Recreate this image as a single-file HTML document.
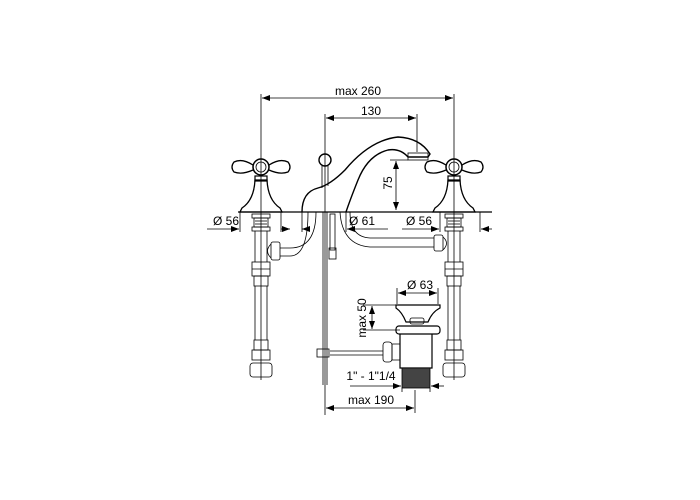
<!DOCTYPE html>
<html><head><style>body{margin:0;background:#fff}svg{display:block}text{font-family:"Liberation Sans",sans-serif;font-size:12px;fill:#000}</style></head><body>
<svg width="700" height="500" viewBox="0 0 700 500" xmlns="http://www.w3.org/2000/svg">
<defs><marker id="a" markerWidth="8" markerHeight="6" refX="8" refY="3" orient="auto-start-reverse" markerUnits="userSpaceOnUse"><path d="M0,0 L8,3 L0,6 z" fill="#000"/></marker></defs>
<g stroke="#000" stroke-width="0.8" fill="none">
<line x1="261" y1="94" x2="261" y2="380"/>
<line x1="454" y1="94" x2="454" y2="380"/>
<line x1="325" y1="114" x2="325" y2="415"/>
<line x1="417" y1="114" x2="417" y2="152"/>
<line x1="262" y1="98" x2="453" y2="98" marker-start="url(#a)" marker-end="url(#a)"/>
<line x1="326" y1="118" x2="416" y2="118" marker-start="url(#a)" marker-end="url(#a)"/>
<line x1="396" y1="161" x2="396" y2="210" marker-start="url(#a)" marker-end="url(#a)"/>
<line x1="390" y1="160" x2="408" y2="160"/>
<line x1="207" y1="229" x2="239" y2="229" marker-end="url(#a)"/>
<line x1="281" y1="229" x2="290" y2="229" marker-end="url(#a)"/>
<line x1="310" y1="229" x2="302" y2="229" marker-end="url(#a)"/>
<line x1="388" y1="229" x2="347" y2="229" marker-end="url(#a)"/>
<line x1="402" y1="229" x2="439" y2="229" marker-end="url(#a)"/>
<line x1="492" y1="229" x2="481" y2="229" marker-end="url(#a)"/>
<line x1="240" y1="212" x2="240" y2="232"/><line x1="281" y1="212" x2="281" y2="232"/>
<line x1="302" y1="212" x2="302" y2="232"/><line x1="346" y1="212" x2="346" y2="232"/>
<line x1="440" y1="212" x2="440" y2="232"/><line x1="480" y1="212" x2="480" y2="232"/>
<line x1="238" y1="212" x2="492" y2="212" stroke-width="1.2"/>
<g id="h">
<path d="M255,180 Q254,200 242,208 L240,212 L282,212 L280,208 Q268,200 267,180 Z" stroke-width="1.3"/>
<rect x="255" y="176" width="12" height="5" stroke-width="1.2"/>
<circle cx="261" cy="167" r="8" stroke-width="1.5"/><circle cx="261" cy="167" r="5"/>
<path d="M253,165 Q242,158 234,162 Q230,167 234,172 Q242,175 253,170" stroke-width="1.3"/>
<path d="M269,165 Q280,158 288,162 Q292,167 288,172 Q280,175 269,170" stroke-width="1.3"/>
<rect x="252" y="214" width="18" height="4"/><rect x="254" y="218" width="14" height="9"/><rect x="252" y="227" width="18" height="4"/>
<line x1="255" y1="221" x2="267" y2="221"/><line x1="255" y1="224" x2="267" y2="224"/>
<line x1="255" y1="231" x2="255" y2="262"/><line x1="267" y1="231" x2="267" y2="262"/>
<rect x="252" y="262" width="18" height="14"/><line x1="252" y1="269" x2="270" y2="269"/>
<rect x="254" y="276" width="14" height="10"/>
<line x1="255" y1="286" x2="255" y2="340"/><line x1="267" y1="286" x2="267" y2="340"/>
<rect x="254" y="340" width="14" height="10"/>
<rect x="252" y="350" width="18" height="10"/>
<rect x="250" y="363" width="22" height="14" rx="3"/>
</g>
<use href="#h" transform="translate(193,0)"/>
<path d="M302,212 Q302,192 318,188 Q330,185 345,170 Q370,140 398,137 Q420,138 430,154 L428,157 L408,157 Q400,148 388,150 Q368,155 358,180 Q350,200 346,212" stroke-width="1.4"/>
<rect x="408" y="153" width="20" height="7"/>
<circle cx="325" cy="160" r="6" stroke-width="1.4"/>
<line x1="322" y1="166" x2="322" y2="188"/><line x1="328" y1="166" x2="328" y2="186"/>
<path d="M316,212 Q316,248 290,248 L280,248"/>
<path d="M308,212 Q308,256 290,256 L280,256"/>
<rect x="271" y="242" width="9" height="18" rx="2"/>
<path d="M271,244 Q264,251 271,258"/>
<path d="M340,212 Q342,245 370,247 L434,247"/>
<path d="M350,212 Q350,237 370,238 L434,238"/>
<rect x="434" y="235" width="9" height="16" rx="2"/>
<path d="M443,237 Q450,243 443,250"/>
<rect x="330" y="214" width="5" height="36"/>
<rect x="329" y="248" width="7" height="11"/>
<line x1="323" y1="212" x2="323" y2="385"/><line x1="327" y1="212" x2="327" y2="385"/>
<line x1="397" y1="288" x2="397" y2="304"/><line x1="438" y1="288" x2="438" y2="304"/>
<line x1="398" y1="293" x2="437" y2="293" marker-start="url(#a)" marker-end="url(#a)"/>
<line x1="363" y1="305" x2="400" y2="305"/><line x1="363" y1="330" x2="400" y2="330"/>
<line x1="372" y1="306" x2="372" y2="329" marker-start="url(#a)" marker-end="url(#a)"/>
<path d="M396,305 L440,305 L440,308 Q432,312 428,322 L406,322 Q402,312 396,308 Z" stroke-width="1.2"/>
<rect x="410" y="318" width="14" height="6" rx="2"/>
<rect x="396" y="326" width="44" height="8" rx="3" stroke-width="1.2"/>
<path d="M400,334 L400,368 L432,368 L432,334" stroke-width="1.2"/>
<rect x="402" y="368" width="28" height="20" fill="#444"/>
<path d="M392,344 L400,344 L400,360 L392,360 Z"/>
<rect x="383" y="342" width="9" height="20" rx="3"/>
<line x1="330" y1="351" x2="383" y2="351"/><line x1="330" y1="355" x2="383" y2="355"/>
<rect x="317" y="349" width="12" height="8"/>
<line x1="402" y1="388" x2="402" y2="392"/><line x1="430" y1="388" x2="430" y2="392"/>
<line x1="350" y1="386" x2="401" y2="386" marker-end="url(#a)"/>
<line x1="444" y1="386" x2="431" y2="386" marker-end="url(#a)"/>
<line x1="415" y1="390" x2="415" y2="413"/>
<line x1="326" y1="408" x2="414" y2="408" marker-start="url(#a)" marker-end="url(#a)"/>
</g>
<text x="358" y="95" text-anchor="middle">max 260</text>
<text x="371" y="115" text-anchor="middle">130</text>
<text x="226" y="225" text-anchor="middle">Ø 56</text>
<text x="362" y="225" text-anchor="middle">Ø 61</text>
<text x="419" y="225" text-anchor="middle">Ø 56</text>
<text x="420" y="289" text-anchor="middle">Ø 63</text>
<text x="371" y="380" text-anchor="middle">1" - 1"1/4</text>
<text x="371" y="404" text-anchor="middle">max 190</text>
<text transform="translate(392,183) rotate(-90)" text-anchor="middle">75</text>
<text transform="translate(366,318) rotate(-90)" text-anchor="middle">max 50</text>
</svg>
</body></html>
